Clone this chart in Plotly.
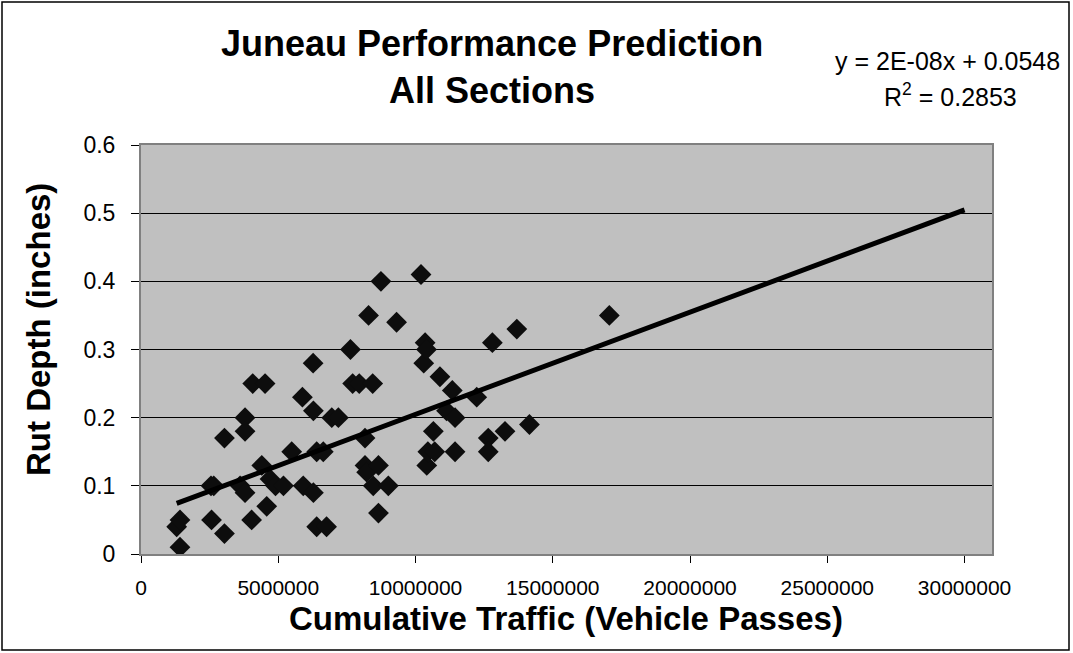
import plotly.graph_objs as go
import numpy             as np


## data

# cumulative traffic (vehicle passes)
traffic = [
  1300000, 1420000, 1420000, 2550000, 2650000, 2570000, 3040000, 3040000,
  3610000, 3790000, 3790000, 3790000, 4030000, 4070000, 4520000, 4400000,
  4580000, 4700000, 4900000, 5190000, 5490000, 5880000, 5910000, 6280000,
  6280000, 6270000, 6400000, 6640000, 6400000, 6760000, 6950000, 7190000,
  7630000, 7710000, 7950000, 8160000, 8160000, 8220000, 8290000, 8440000,
  8460000, 8650000, 8650000, 8740000, 9010000, 9310000, 10200000, 10300000,
  10350000, 10400000, 10410000, 10450000, 10650000, 10700000, 10890000, 11130000,
  11340000, 11440000, 11440000, 12230000, 12650000, 12650000, 12800000, 13260000,
  13690000, 14150000, 17060000,
]

# rut depth (inches)
rut_depth = [
  0.04, 0.05, 0.01, 0.10, 0.10, 0.05, 0.17, 0.03,
  0.10, 0.09, 0.20, 0.18, 0.05, 0.25, 0.25, 0.13,
  0.07, 0.11, 0.10, 0.10, 0.15, 0.23, 0.10, 0.09,
  0.21, 0.28, 0.15, 0.15, 0.04, 0.04, 0.20, 0.20,
  0.30, 0.25, 0.25, 0.17, 0.13, 0.12, 0.35, 0.25,
  0.10, 0.13, 0.06, 0.40, 0.10, 0.34, 0.41, 0.28,
  0.31, 0.30, 0.13, 0.15, 0.18, 0.15, 0.26, 0.21,
  0.24, 0.20, 0.15, 0.23, 0.17, 0.15, 0.31, 0.18,
  0.33, 0.19, 0.35,
]

# linear trendline (excel), forecast forward to 30M passes
trend_slope     = 1.5e-8
trend_intercept = 0.0548
trend_end       = 30000000

x_ticks  = [0, 5000000, 10000000, 15000000, 20000000, 25000000, 30000000]
x_labels = ['0', '5000000', '10000000', '15000000', '20000000', '25000000', '30000000']
y_ticks  = [0, 0.1, 0.2, 0.3, 0.4, 0.5, 0.6]
y_labels = ['0', '0.1', '0.2', '0.3', '0.4', '0.5', '0.6']


## page geometry (pixels)

W, H = 1073, 653
L, R, T, B = 141, 992, 145, 554

def px(x):
  return (x - L) / (R - L)

def py(y):
  return (B - y) / (B - T)


FONT = 'Liberation Sans, Arial, sans-serif'

trend_x = np.array([min(traffic), trend_end])
trend_y = trend_slope * trend_x + trend_intercept

data = [
  go.Scatter(
    x=traffic, y=rut_depth, mode='markers',
    marker={'symbol': 'diamond', 'size': 16, 'color': '#0d0d0d', 'line': {'width': 0}},
    showlegend=False
  ),
  go.Scatter(
    x=trend_x, y=trend_y, mode='lines',
    line={'color': 'black', 'width': 5},
    showlegend=False
  ),
]

def label(text, x, y, size, bold=False, angle=0):
  return dict(
    text='<b>%s</b>' % text if bold else text,
    x=px(x), y=py(y), xref='paper', yref='paper',
    xanchor='center', yanchor='middle', showarrow=False,
    textangle=angle, font={'family': FONT, 'size': size, 'color': 'black'}
  )

layout = go.Layout(
  width=W, height=H,
  margin={'l': L, 'r': W - R, 't': T, 'b': H - B, 'pad': 0},
  paper_bgcolor='white',
  plot_bgcolor='#c0c0c0',
  font={'family': FONT, 'size': 22, 'color': 'black'},
  xaxis={
    'range': [0, 31000000],
    'tickvals': x_ticks, 'ticktext': x_labels,
    'ticks': 'outside', 'ticklen': 7, 'tickcolor': 'black', 'tickwidth': 1,
    'ticklabelstandoff': 7,
    'tickfont': {'size': 21},
    'showgrid': False, 'zeroline': False,
    'showline': True, 'linecolor': '#808080', 'linewidth': 2, 'mirror': True,
  },
  yaxis={
    'range': [0, 0.6],
    'tickvals': y_ticks, 'ticktext': y_labels,
    'ticks': 'outside', 'ticklen': 8, 'tickcolor': 'black', 'tickwidth': 1,
    'ticklabelstandoff': 11,
    'tickfont': {'size': 23},
    'showgrid': True, 'gridcolor': 'black', 'gridwidth': 1, 'zeroline': False,
    'showline': True, 'linecolor': '#808080', 'linewidth': 2, 'mirror': True,
  },
  annotations=[
    label('Juneau Performance Prediction', 492, 43, 36, bold=True),
    label('All Sections', 492, 91, 36, bold=True),
    label('y = 2E-08x + 0.0548', 947, 61, 25),
    label('R<sup>2</sup> = 0.2853', 950, 95, 25),
    label('Cumulative Traffic (Vehicle Passes)', 566, 618, 33, bold=True),
    label('Rut Depth (inches)', 38, 330, 33, bold=True, angle=-90),
  ],
  shapes=[
    # outer chart border
    dict(type='rect', xref='paper', yref='paper',
         x0=px(2), x1=px(1069), y0=py(650), y1=py(2),
         line={'color': 'black', 'width': 1.5}, layer='below'),
  ],
)

fig = go.Figure(data=data, layout=layout)

# drop the browser's default page margin so the chart sits at the top-left corner
fig.write_html(
  "out.html",
  config={'displayModeBar': False},
  post_script="document.body.style.margin = '0';"
)
